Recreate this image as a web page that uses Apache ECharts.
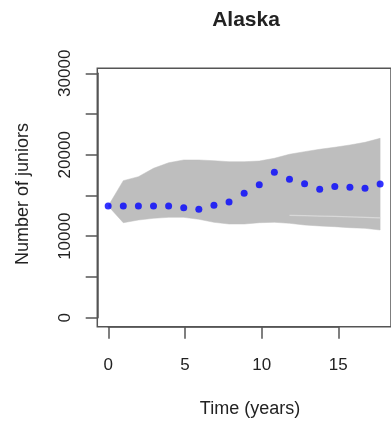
<!DOCTYPE html>
<html>
<head>
<meta charset="utf-8">
<script src="https://cdn.jsdelivr.net/npm/echarts@6/dist/echarts.min.js"></script>
<style>
html,body{margin:0;padding:0;background:#fff;}
#chart{width:391px;height:422px;}
</style>
</head>
<body>
<div id="chart"></div>
<script>
var years = [0,1,2,3,4,5,6,7,8,9,10,11,12,13,14,15,16,17,18];
var observed = [13710,13710,13710,13710,13710,13500,13300,13790,14200,15270,16330,17840,16980,16450,15760,16120,16000,15880,16410];
var bandUpper = [13710,16820,17310,18340,19020,19360,19360,19270,19150,19150,19230,19570,20060,20380,20670,20920,21200,21530,22020];
var bandLower = [13710,11660,11990,12200,12320,12320,12080,11710,11500,11500,11660,11710,11590,11380,11260,11170,11050,10970,10770];
var gapYears = [12,13,14,15,16,17,18];
var gapLine = [12560,12520,12480,12430,12380,12320,12260];
var xTicks = [0,5,10,15];
var yTickLabels = ['0','10000','20000','30000'];

var chart = echarts.init(document.getElementById('chart'));
var obsData = years.map(function(x,i){return [x, observed[i]];});
var gapData = gapYears.map(function(x,i){return [x, gapLine[i]];});
var lineCol = '#555';
var txtCol = '#222';
var font = 'Liberation Sans, Arial, sans-serif';

function renderBand(params, api) {
  if (params.dataIndex !== 0) return null;
  var pts = [];
  for (var i = 0; i < years.length; i++) pts.push(api.coord([years[i], bandUpper[i]]));
  for (var j = years.length - 1; j >= 0; j--) pts.push(api.coord([years[j], bandLower[j]]));
  return {type: 'polygon', shape: {points: pts}, style: {fill: '#bebebe', stroke: '#bebebe', lineWidth: 0.5}, silent: true};
}

chart.setOption({
  animation: false,
  backgroundColor: '#fff',
  grid: [
    {left: 97.3, top: 68.3, width: 298, height: 258.4, show: true, borderColor: lineCol, borderWidth: 1.5, backgroundColor: 'transparent', containLabel: false},
    {left: 108.3, right: 52.7, top: 73.3, bottom: 104.3, show: false, containLabel: false}
  ],
  xAxis: [
    {gridIndex: 0, type: 'value', min: -0.72, max: 18.72, show: false},
    {gridIndex: 1, type: 'value', min: xTicks[0], max: xTicks[xTicks.length-1], interval: 5, position: 'bottom', offset: 9,
     axisLine: {show: true, onZero: false, lineStyle: {color: lineCol, width: 1.5}},
     axisTick: {show: true, length: 12, lineStyle: {color: lineCol, width: 1.5}},
     splitLine: {show: false},
     axisLabel: {show: true, margin: 30, fontSize: 17, color: txtCol, fontFamily: font}}
  ],
  yAxis: [
    {gridIndex: 0, type: 'value', min: -1105, max: 30614, show: false},
    {gridIndex: 1, type: 'value', min: 0, max: 30000, interval: 5000, position: 'left', offset: 10.6,
     axisLine: {show: true, onZero: false, lineStyle: {color: lineCol, width: 1.5}},
     axisTick: {show: true, length: 12, lineStyle: {color: lineCol, width: 1.5}},
     splitLine: {show: false},
     axisLabel: {show: true, rotate: 90, margin: 24, fontSize: 17, color: txtCol, fontFamily: font,
       formatter: function(v){ var s = String(v); return yTickLabels.indexOf(s) >= 0 ? s : ''; }}}
  ],
  graphic: [
    {type: 'text', x: 246, y: 20, style: {text: 'Alaska', font: 'bold 21px ' + font, fill: txtCol, textAlign: 'center', textVerticalAlign: 'middle'}},
    {type: 'text', x: 250, y: 409, style: {text: 'Time (years)', font: '18px ' + font, fill: txtCol, textAlign: 'center', textVerticalAlign: 'middle'}},
    {type: 'text', x: 23, y: 194, rotation: Math.PI/2, style: {text: 'Number of juniors', font: '18px ' + font, fill: txtCol, textAlign: 'center', textVerticalAlign: 'middle'}}
  ],
  series: [
    {type: 'custom', xAxisIndex: 0, yAxisIndex: 0, data: [[0, 0]], renderItem: renderBand, silent: true, z: 1, clip: true},
    {type: 'line', xAxisIndex: 0, yAxisIndex: 0, data: gapData, symbol: 'none', lineStyle: {color: '#d8d8d8', width: 1.3}, silent: true, z: 2},
    {type: 'scatter', xAxisIndex: 0, yAxisIndex: 0, data: obsData, symbol: 'circle', symbolSize: 7, itemStyle: {color: '#0000ff'}, z: 3}
  ]
});
</script>
</body>
</html>
